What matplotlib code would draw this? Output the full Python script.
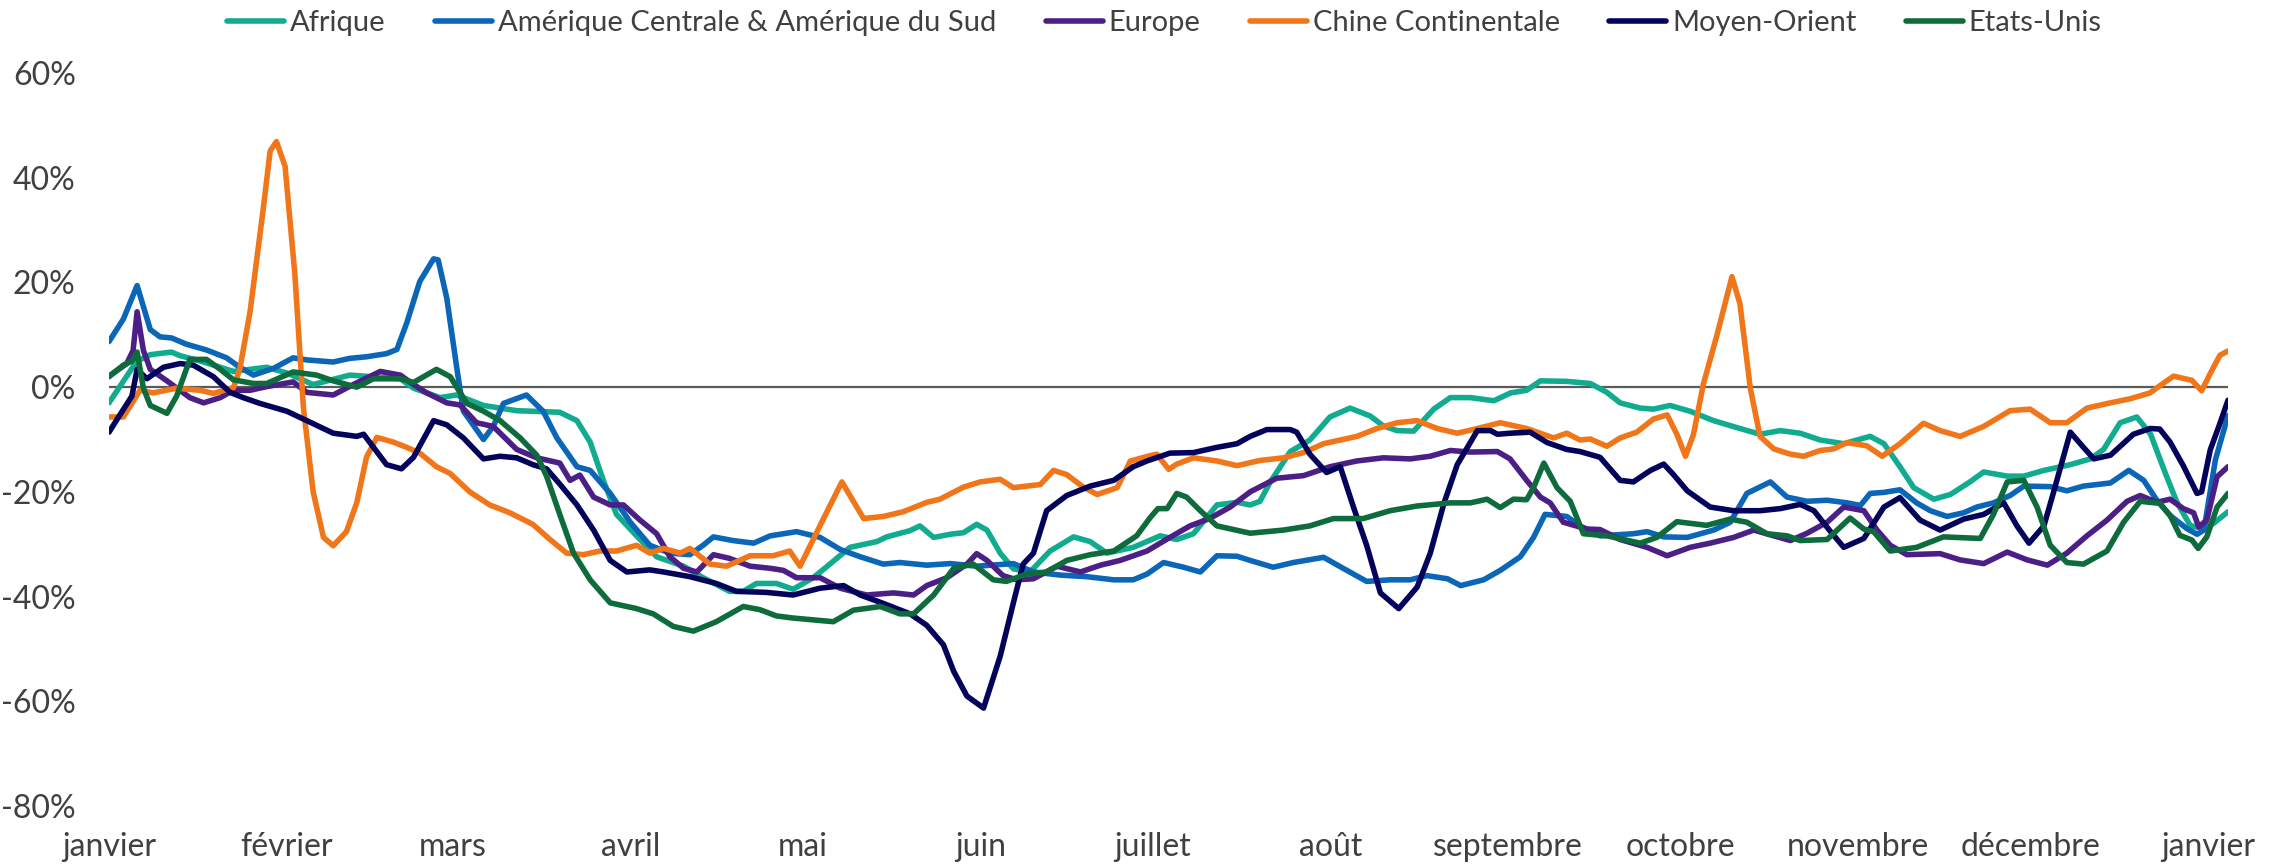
import matplotlib
matplotlib.use("Agg")
import matplotlib.pyplot as plt

plt.rcParams['font.family'] = ['Lato', 'DejaVu Sans']

# ---------------------------------------------------------------------------
# data read from the chart : day of year -> variation (%)
# ---------------------------------------------------------------------------
mois = ['janvier', 'février', 'mars', 'avril', 'mai', 'juin', 'juillet',
        'août', 'septembre', 'octobre', 'novembre', 'décembre', 'janvier']
mois_jours = [0, 31, 60, 91, 121, 152, 182, 213, 244, 274, 305, 335, 366]

afrique_jours = [0, 4.8, 7.2, 10.9, 12.4, 15.9, 21.7, 27.5, 31, 35.6, 42, 50.8, 53.1, 57.7, 60.6,
                 65.3, 71.1, 78.6, 81.6, 83.9, 86.2, 88.5, 92, 95.5, 100.2, 103.6, 108.2, 110.6, 112.9,
                 116.4, 119.3, 122.8, 125.7, 129.2, 133.9, 135.6, 139.7, 141.4, 143.8, 146.7, 149,
                 151.3, 153.1, 155.4, 157.7, 160.6, 164.1, 168.2, 171.1, 174, 178.6, 183.3, 186.2,
                 189.1, 193.2, 196.7, 199, 200.7, 202.5, 206, 209.4, 212.9, 216.4, 219.9, 222.2,
                 224.6, 227.5, 231, 233.9, 237.4, 241.5, 244.4, 247.2, 249.6, 254.2, 258.3, 261.2,
                 263.5, 267, 269.3, 272.2, 275.7, 279.8, 284.4, 287.9, 291.4, 294.9, 298.4, 302.5,
                 307.1, 309.5, 312.3, 314.7, 318.2, 321.1, 324.5, 326.9, 331, 333.9, 337.4, 342,
                 345.5, 347.8, 350.7, 353.6, 356, 358.6, 360.6, 362.9, 364.9, 367, 369.5]
afrique_vals = [-3, 4.9, 6.2, 6.7, 6, 5, 3, 3.8, 2.7, 0.5, 2.3, 1.6, -0.2, -2, -1.5,
                -3.5, -4.5, -4.8, -6.4, -10.5, -17.8, -24.3, -28.4, -32.4, -34.2, -36.4, -39, -39, -37.5,
                -37.5, -38.6, -36.4, -33.8, -30.6, -29.5, -28.6, -27.4, -26.5, -28.7, -28.1, -27.8,
                -26.2, -27.3, -31.7, -34.7, -35.3, -31.3, -28.6, -29.5, -31.7, -30.6, -28.4, -29.1,
                -28, -22.5, -22, -22.5, -21.8, -18.1, -12.3, -10.1, -5.7, -4, -5.5, -7.4,
                -8.3, -8.4, -4.2, -2, -2, -2.6, -1.1, -0.6, 1.2, 1.1, 0.7, -1,
                -3, -4, -4.2, -3.5, -4.6, -6.4, -7.9, -9, -8.3, -8.8, -10.1, -10.8,
                -9.4, -10.8, -15.2, -19.2, -21.4, -20.5, -18.1, -16.2, -17, -17, -15.9, -14.8,
                -13.7, -11.9, -6.8, -5.7, -9, -16.5, -22, -26.4, -27, -26, -23.8]

amerique_jours = [0, 2.5, 4.9, 7.2, 8.9, 10.9, 13.5, 17, 20.5, 22.8, 25.2, 28.7, 32.1, 34.5, 39.1,
                  42, 44.9, 48.4, 50.2, 51.9, 54.2, 56.6, 57.4, 58.9, 60.6, 61.8, 65.3, 67, 68.8,
                  72.8, 75.7, 78.1, 81.6, 83.9, 87.4, 90.9, 94.3, 97.8, 101.3, 103.6, 105.4, 108.8,
                  112.4, 115.3, 119.9, 124, 127.5, 131, 135, 137.9, 142.6, 146.7, 151.3, 157.7,
                  161.2, 165.9, 170.5, 175.2, 178.6, 181, 183.9, 187.4, 190.3, 193.2, 196.7, 199,
                  203, 206.5, 211.8, 215.2, 219.3, 223.4, 226.9, 229.8, 233.4, 235.7, 239.7, 242.6,
                  246.1, 248.4, 250.4, 254.2, 256.5, 260, 265.8, 268.2, 271.1, 275.2, 279.8, 282.7,
                  285.6, 289.7, 292.6, 296.1, 299.6, 303.1, 305.4, 307.1, 309.5, 312.3, 315.2,
                  317.6, 320.5, 323.4, 325.7, 328.6, 331.5, 333.9, 338.5, 341.4, 344.3, 349, 352.2,
                  354.8, 357.1, 359.4, 362.3, 364.1, 365.3, 367.3, 369.5]
amerique_vals = [8.7, 13, 19.4, 11, 9.6, 9.4, 8.2, 7.1, 5.6, 3.8, 2.3, 3.6, 5.6, 5.2, 4.8,
                 5.5, 5.8, 6.4, 7.2, 12.2, 20.2, 24.5, 24.3, 17, 4, -4.6, -10, -7.5, -3.1,
                 -1.5, -4.6, -9.7, -15.2, -15.9, -20.3, -25.8, -30.2, -31.7, -32, -30.2, -28.6, -29.3,
                 -29.8, -28.4, -27.6, -28.7, -31, -32.4, -33.8, -33.5, -34, -33.7, -34.2, -33.7,
                 -35.3, -35.9, -36.2, -36.8, -36.8, -35.7, -33.5, -34.4, -35.3, -32.2, -32.3, -33.1,
                 -34.4, -33.5, -32.5, -34.6, -37.1, -36.8, -36.8, -36, -36.6, -37.9, -36.8, -35,
                 -32.4, -28.7, -24.3, -24.7, -26.5, -28.4, -28, -27.6, -28.6, -28.7, -27.3, -25.8,
                 -20.3, -18.1, -21, -21.8, -21.6, -22.1, -22.6, -20.3, -20.1, -19.6, -22.1,
                 -23.6, -24.7, -24, -22.9, -22.1, -20.7, -18.9, -19, -19.8, -18.9, -18.3, -15.9,
                 -17.8, -21.6, -24.5, -27, -28.1, -27.3, -13.9, -5.4]

europe_jours = [0, 3.1, 4.2, 4.9, 6, 7.2, 10.1, 14.1, 16.5, 19.4, 21.7, 24.6, 27.5, 32.1, 34.5,
                39.1, 42.6, 47.3, 50.8, 53.1, 55.4, 58.9, 61.2, 64.1, 67, 71.1, 74.6, 78.6, 80.4,
                82.1, 84.5, 87.4, 89.7, 92.6, 95.5, 97.8, 100.2, 102.5, 105.4, 108.2, 111.8, 115.3,
                117.6, 119.9, 124, 127.5, 132.1, 136.8, 140.3, 142.6, 146.1, 149.6, 151.3, 153.1,
                155.9, 158.3, 161.2, 165.3, 169.4, 172.9, 176.3, 181, 183.3, 185, 188.5, 191.9,
                195.5, 199, 203.6, 208.3, 212.9, 217.6, 222.2, 226.9, 230.4, 233.9, 237.4, 242.1,
                244.3, 247.2, 249.6, 251.3, 253.6, 257.7, 260, 263.5, 268.2, 271.7, 275.7, 279.2,
                283.3, 286.8, 290.3, 293.2, 296.1, 299.6, 302.5, 306, 308.3, 310.6, 313.5, 319.3,
                322.8, 326.9, 331, 334.5, 338, 341.4, 344.9, 348.4, 351.9, 354.2, 357.1, 359.4,
                361.7, 363.5, 364.4, 365.8, 367.6, 369.5]
europe_vals = [2.1, 4.5, 7, 14.4, 7, 3.4, 1.2, -2, -3, -2, -0.6, -0.6, 0.1, 1, -1,
               -1.5, 0.5, 3, 2.3, 0.5, -1.1, -3, -3.4, -6.8, -7.5, -11.9, -13.5, -14.5, -17.8,
               -16.8, -21, -22.5, -22.5, -25.4, -28, -32.4, -34.6, -35.3, -32, -32.7, -34.2, -34.6,
               -35, -36.4, -36.4, -38.4, -39.7, -39.3, -39.7, -37.9, -36.4, -33.8, -31.8, -33.1,
               -36, -36.8, -36.6, -34.2, -35.3, -34, -33.1, -31.3, -29.8, -28.7, -26.5, -25.1,
               -22.9, -20, -17.4, -16.9, -15.2, -14.1, -13.5, -13.7, -13.2, -12.1, -12.4, -12.3,
               -13.7, -17.8, -21, -22.1, -25.8, -27.1, -27.2, -29.1, -30.6, -32.2, -30.6, -29.8,
               -28.7, -27.3, -28.4, -29.3, -27.9, -25.8, -22.9, -23.6, -27.3, -30.2, -32, -31.8,
               -33, -33.7, -31.5, -33, -34, -31.7, -28.4, -25.4, -21.8, -20.7, -22, -21.4,
               -23.2, -24, -26.7, -25.4, -17.1, -15.2]

chine_jours = [0, 2.5, 4, 5.4, 7.7, 11.8, 15.9, 18.2, 21.7, 22.8, 24.6, 26.9, 28.1, 29.2, 30.7,
               32.4, 33.9, 35.6, 37.4, 39.1, 41.4, 43.2, 44.9, 46.7, 49.6, 51.9, 54.2, 57.1, 59.5,
               62.9, 66.4, 69.9, 73.9, 76.9, 79.8, 82.7, 85.6, 88.5, 92, 94.3, 96.7, 99.6, 101.3,
               104.8, 107.7, 111.8, 115.8, 118.7, 120.5, 122.3, 124.6, 126.3, 127.8, 129.2, 131.6,
               135, 138.5, 142.6, 144.9, 149, 151.9, 155.4, 157.7, 162.4, 164.7, 167, 169.9, 172.3,
               175.8, 178.1, 181.5, 182.7, 184.8, 186.2, 189.1, 193.2, 196.7, 200.7, 204.8, 208.3,
               211.8, 217.6, 221.1, 224.6, 228.1, 231.6, 235.1, 238.6, 242.6, 247.2, 251.9, 254.2,
               256.5, 258.3, 261.2, 263.5, 266.4, 269.3, 271.7, 273.4, 274.9, 276.3, 278, 280.4,
               283, 284.4, 286.2, 287.9, 290.3, 293.2, 295.5, 298.4, 300.7, 303.1, 306.5, 309.2,
               312.3, 316.4, 319.3, 322.8, 326.9, 331.5, 335, 338.5, 341.4, 344.9, 349, 352.5,
               355.9, 358.3, 360, 363.2, 364.9, 366.4, 368.1, 369.5]
chine_vals = [-5.7, -5.7, -3.1, -0.6, -1.1, -0.2, -0.6, -1.2, -0.1, 3.4, 14.4, 34.1, 45.1, 46.9, 42.2,
              21.7, -3.9, -20, -28.7, -30.3, -27.6, -22.1, -13.4, -9.6, -10.5, -11.5, -12.6, -15.2, -16.5,
              -20, -22.5, -24, -26.2, -29.1, -31.7, -32, -31.3, -31.3, -30.2, -31.7, -30.8, -31.7, -30.8,
              -33.8, -34.2, -32.2, -32.2, -31.3, -34.2, -30.2, -25.1, -21.4, -18.1, -20.7, -25.1,
              -24.7, -23.8, -22, -21.4, -19.1, -18.1, -17.6, -19.2, -18.6, -15.9, -16.7, -19.1, -20.5,
              -19.2, -14.1, -13.1, -12.8, -15.7, -14.7, -13.5, -14.1, -15, -14, -13.5, -12.5,
              -10.8, -9.4, -7.9, -6.8, -6.4, -7.9, -8.8, -7.9, -6.8, -7.9, -9.7, -8.8,
              -10.1, -9.9, -11.3, -9.7, -8.6, -6.1, -5.3, -9, -13.2, -9, 0.5, 10,
              21.1, 15.9, -0.2, -9.4, -11.8, -12.8, -13.2, -12.1, -11.8, -10.6, -11.2, -13.2,
              -10.8, -6.9, -8.3, -9.4, -7.5, -4.5, -4.2, -6.8, -6.8, -4, -3, -2.2,
              -1.1, 0.8, 2.1, 1.3, -0.7, 2.6, 6.1, 6.9]

moyen_orient_jours = [0, 1.9, 4, 4.9, 6.6, 9.5, 12.4, 14.7, 18.2, 21.1, 23.4, 26.3, 31, 34.5, 39.1,
                      43.2, 44.4, 48.4, 51, 53.1, 56.6, 58.9, 61.8, 65.3, 68.2, 71.1, 73.9, 76.3,
                      78.6, 81.6, 84.5, 87.4, 90.3, 94.3, 96.7, 101.3, 105.9, 109.4, 114.6, 119.3,
                      124, 128.1, 131, 135, 139.7, 142.6, 145.5, 147.3, 149.6, 152.5, 155.4, 157.7,
                      159.4, 161.2, 163.5, 167, 171.1, 175.2, 178.6, 181, 185, 189.1, 193.2, 196.7,
                      199, 201.9, 206, 207.1, 209.4, 212.3, 214.7, 217, 219.3, 221.7, 224.9, 228.1,
                      230.4, 232.8, 235.1, 238.6, 240.9, 242.1, 244.3, 247.8, 250.8, 254.2, 256.5,
                      260, 263.5, 265.8, 268.8, 271.1, 272.8, 275.2, 279.2, 283.3, 287.9, 291.4,
                      294.9, 297.3, 300.2, 302.5, 306, 309.5, 312.3, 315.8, 319.3, 323.4, 326.9,
                      330.4, 332.7, 334.8, 337.4, 339.1, 342, 344.3, 346.1, 349, 353, 355.9, 357.6,
                      359.4, 361.7, 364.1, 364.9, 366.4, 368.1, 369.5]
moyen_orient_vals = [-8.6, -5.3, -1.7, 3.4, 1.6, 3.8, 4.5, 4.2, 2, -1, -2, -3.1, -4.6, -6.4, -8.8,
                     -9.4, -9, -14.8, -15.6, -13.4, -6.4, -7.2, -9.7, -13.7, -13.2, -13.5, -14.8, -15.6,
                     -18.5, -22.5, -27.3, -33.1, -35.3, -34.9, -35.3, -36.2, -37.5, -39, -39.2, -39.7,
                     -38.4, -37.9, -39.7, -41.3, -43.3, -45.5, -49.2, -54.3, -59, -61.3, -51.4, -41.2,
                     -33.8, -31.7, -23.6, -20.7, -18.9, -17.8, -15.2, -14.1, -12.6, -12.5, -11.5, -10.8,
                     -9.4, -8.1, -8.1, -8.6, -12.8, -16.3, -15.2, -22.9, -30.2, -39.3, -42.3, -38.2,
                     -31.7, -22.1, -14.8, -8.3, -8.3, -9, -8.8, -8.6, -10.6, -11.9, -12.3,
                     -13.4, -17.8, -18.1, -15.9, -14.7, -16.7, -19.8, -22.9, -23.6, -23.6, -23.2,
                     -22.4, -23.6, -27.6, -30.6, -28.9, -22.9, -21.1, -25.4, -27.3, -25.2, -24.3,
                     -22.1, -26.5, -29.8, -26.5, -20, -8.6, -11.5, -13.7, -13, -9, -7.9, -8,
                     -10.5, -15, -20.3, -20, -12, -6.9, -2.5]

etats_unis_jours = [0, 2.5, 4, 4.9, 6, 7.2, 10.1, 11.8, 14.1, 17, 19.4, 21.7, 25.2, 27.5, 32.1,
                    36.2, 39.1, 43.2, 46.1, 50.8, 53.1, 57.1, 59.5, 62.4, 65.3, 68.2, 71.7, 74.6,
                    76.3, 78.6, 81, 83.9, 87.4, 92, 94.9, 98.4, 101.9, 105.9, 110.6, 113.5, 116.4,
                    119.3, 122.3, 126.3, 129.8, 134.5, 137.9, 140.3, 143.8, 147.3, 150.7, 154.2,
                    156.5, 160, 163.5, 167, 171.1, 175.2, 179.2, 181.5, 182.9, 184.5, 186.2, 187.9,
                    190.3, 193.2, 199, 204.8, 209.4, 213.5, 218.7, 223.4, 228.1, 233.9, 237.4, 240.3,
                    242.6, 244.9, 247.2, 248.4, 250.2, 252.5, 254.8, 257.1, 261.2, 267, 269.9, 273.4,
                    278.6, 282.7, 285.6, 289.1, 292.6, 294.9, 299.6, 303.6, 306, 307.7, 310.6, 315.2,
                    319.9, 326.3, 328.6, 331, 333.9, 336.2, 338.5, 341.4, 344.3, 348.4, 351.3, 354.2,
                    357.6, 359.4, 361.1, 363.2, 364.3, 365.8, 367.6, 369.5]
etats_unis_vals = [2, 4.2, 5, 6.7, -0.2, -3.5, -5, -1.7, 5.3, 5.3, 3.4, 1.4, 0.7, 0.7, 2.9,
                   2.3, 1.2, 0, 1.6, 1.6, 0.9, 3.4, 2, -3.1, -4.6, -6.4, -9.7, -13,
                   -17, -24.3, -31.7, -36.8, -41.2, -42.3, -43.3, -45.7, -46.6, -44.8, -41.9, -42.5, -43.7,
                   -44.1, -44.4, -44.8, -42.6, -41.9, -43.3, -43.3, -39.7, -34.6, -33.8, -36.8,
                   -37.1, -35.7, -35.3, -33.1, -32, -31.3, -28.4, -25, -23.2, -23.2, -20.3, -21,
                   -23.6, -26.5, -27.9, -27.3, -26.5, -25.1, -25.1, -23.6, -22.7, -22.1, -22.1, -21.4,
                   -23, -21.4, -21.5, -19.2, -14.5, -19.2, -21.8, -28, -28.4, -29.8, -28.7, -25.7,
                   -26.4, -25.2, -25.8, -28, -28.4, -29.3, -29.1, -25, -27.1, -27.6, -31.3, -30.6,
                   -28.6, -28.9, -24.3, -18.1, -17.8, -22.9, -30.2, -33.5, -33.8, -31.3, -25.8, -21.8,
                   -22.2, -24.5, -28.3, -29.2, -30.8, -28.6, -22.9, -20.3]

series = [
    ('Afrique', afrique_jours, afrique_vals, '#11ac8f'),
    ('Amérique Centrale & Amérique du Sud', amerique_jours, amerique_vals, '#0b66b7'),
    ('Europe', europe_jours, europe_vals, '#4c1f87'),
    ('Chine Continentale', chine_jours, chine_vals, '#f07619'),
    ('Moyen-Orient', moyen_orient_jours, moyen_orient_vals, '#03035c'),
    ('Etats-Unis', etats_unis_jours, etats_unis_vals, '#0e6b3b'),
]

# ---------------------------------------------------------------------------
# plot
# ---------------------------------------------------------------------------
texte = '#404040'
fig = plt.figure(figsize=(22.88, 8.64), dpi=100)
ax = fig.add_axes([109 / 2288, 58 / 864, 2119 / 2288, 733 / 864])

ax.axhline(0, color='#5a5a5a', lw=1.6, zorder=1)
for nom, jours, vals, couleur in series:
    ax.plot(jours, vals, color=couleur, lw=4.0, label=nom, zorder=2,
            solid_joinstyle='round', solid_capstyle='round')

ax.set_xlim(0, 369.5)
ax.set_ylim(-80, 60)
ax.set_yticks(range(-80, 61, 20))
ax.set_yticklabels([f'{v}%' for v in range(-80, 61, 20)])
ax.set_xticks(mois_jours)
ax.set_xticklabels(mois)
ax.tick_params(axis='y', length=0, pad=24, labelsize=23, labelcolor=texte)
ax.tick_params(axis='x', length=0, pad=19, labelsize=23, labelcolor=texte)
for s in ax.spines.values():
    s.set_visible(False)

fig.legend(loc='center', bbox_to_anchor=(0.509, 0.973), ncol=6, frameon=False,
           fontsize=21, labelcolor=texte, handlelength=1.95, handletextpad=0.2,
           columnspacing=1.7)

fig.savefig('out.png', dpi=100)
